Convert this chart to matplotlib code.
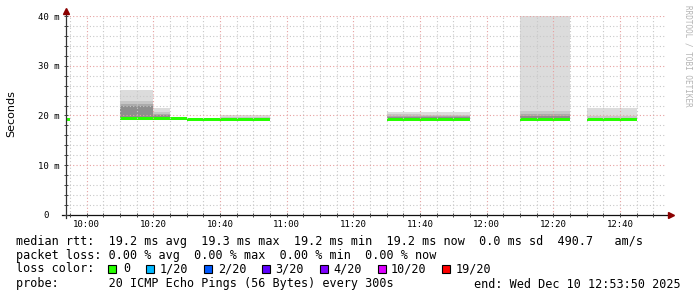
import matplotlib
matplotlib.use("Agg")
import matplotlib.pyplot as plt
from matplotlib.ticker import MultipleLocator, FixedLocator
from matplotlib.patches import Rectangle

# 5 minute steps, minutes relative to 10:00
step_start = [-10, 10, 15, 20, 25, 30, 35, 40, 45, 50,
              90, 95, 100, 105, 110, 130, 135, 140, 150, 155, 160]
median_ms = [19.2, 19.3, 19.3, 19.3, 19.3, 19.1, 19.1, 19.1, 19.1, 19.1,
             19.1, 19.1, 19.1, 19.1, 19.1, 19.2, 19.2, 19.2, 19.1, 19.1, 19.1]
# smoke levels, outer (light) to inner (dark)
smoke_top = [19.2, 25.1, 25.1, 21.6, 19.3, 19.1, 19.1, 20.1, 20.1, 20.1,
             20.8, 20.8, 20.8, 20.8, 20.8, 40.0, 40.0, 40.0, 21.6, 21.6, 21.6]
smoke_q2 = [19.2, 22.9, 22.9, 20.7, 19.3, 19.1, 19.1, 19.7, 19.7, 19.7,
            20.3, 20.3, 20.2, 20.2, 20.2, 20.9, 20.9, 20.9, 19.8, 19.8, 19.8]
smoke_q3 = [19.2, 22.4, 22.4, 20.4, 19.3, 19.1, 19.1, 19.1, 19.1, 19.1,
            20.0, 20.0, 19.8, 19.8, 19.8, 20.4, 20.4, 20.4, 19.1, 19.1, 19.1]
smoke_q4 = [19.2, 21.9, 21.9, 20.1, 19.3, 19.1, 19.1, 19.1, 19.1, 19.1,
            19.7, 19.7, 19.6, 19.6, 19.6, 19.9, 19.9, 19.9, 19.1, 19.1, 19.1]

x_tick_pos = [0, 20, 40, 60, 80, 100, 120, 140, 160]
x_tick_labels = ['10:00', '10:20', '10:40', '11:00', '11:20', '11:40', '12:00', '12:20', '12:40']
y_tick_pos = [0, 10, 20, 30, 40]
y_tick_labels = ['0  ', '10 m', '20 m', '30 m', '40 m']

loss_labels = ['0', '1/20', '2/20', '3/20', '4/20', '10/20', '19/20']
loss_colors = ['#26ff00', '#00b8ff', '#0059ff', '#5e00ff', '#7e00ff', '#dd00ff', '#ff0000']

W, H = 697, 297
mono = 'DejaVu Sans Mono'

fig = plt.figure(figsize=(W / 100, H / 100), dpi=100)
ax = fig.add_axes([66 / W, 1 - 215 / H, 600 / W, 199 / H])

# smoke
shades = ['#dcdcdc', '#c6c6c6', '#ababab', '#8e8e8e']
base = [m - 0.3 for m in median_ms]
for level, shade in zip([smoke_top, smoke_q2, smoke_q3, smoke_q4], shades):
    ax.bar(step_start, [lv - b for lv, b in zip(level, base)], bottom=base,
           width=5, align='edge', color=shade, linewidth=0, antialiased=False)

# median rtt, coloured by loss
ax.bar(step_start, 0.6, bottom=base, width=5, align='edge',
       color=loss_colors[0], linewidth=0, antialiased=False)

ax.set_xlim(-6.1667, 173.8333)
ax.set_ylim(0, 40)

ax.xaxis.set_major_locator(FixedLocator(x_tick_pos))
ax.xaxis.set_minor_locator(MultipleLocator(5))
ax.yaxis.set_major_locator(FixedLocator(y_tick_pos))
ax.yaxis.set_minor_locator(MultipleLocator(2))
ax.set_xticklabels(x_tick_labels, fontfamily=mono, fontsize=6.5)
ax.set_yticklabels(y_tick_labels, fontfamily=mono, fontsize=6.5)

ax.set_axisbelow(False)
ax.grid(which='minor', color='#c8c8c8', linestyle=(0, (1, 2)), linewidth=0.8)
ax.grid(which='major', color='#e6a0a0', linestyle=(0, (1, 2)), linewidth=0.8)

ax.tick_params(which='both', direction='inout', length=3, width=0.7, color='#404040')
ax.tick_params(axis='x', pad=2)
ax.tick_params(axis='y', pad=3)

for s in ['top', 'right']:
    ax.spines[s].set_visible(False)
for s in ['left', 'bottom']:
    ax.spines[s].set_visible(False)

# axes with arrows
ax.plot([0, 0], [-0.015, 1.02], transform=ax.transAxes, color='#303030', lw=0.9, clip_on=False)
ax.plot([-0.007, 1.006], [0, 0], transform=ax.transAxes, color='#101010', lw=0.9, clip_on=False)
ax.plot([0], [1.025], marker='^', ms=4, color='#8b0000', transform=ax.transAxes, clip_on=False)
ax.plot([1.009], [0], marker='>', ms=4, color='#8b0000', transform=ax.transAxes, clip_on=False)

ax.set_facecolor('white')
fig.patch.set_facecolor('white')

fig.text(11 / W, 1 - 114 / H, 'Seconds', rotation=90, ha='center', va='center',
         fontsize=8, fontfamily='DejaVu Sans')
fig.text(688 / W, 1 - 5 / H, 'RRDTOOL / TOBI OETIKER', rotation=270, ha='center', va='top',
         fontsize=5.5, fontfamily=mono, color='#b4b4b4')

# legend lines
def line(y, txt, x=16, ha='left'):
    fig.text(x / W, 1 - y / H, txt, ha=ha, va='center', fontsize=8.5, fontfamily=mono)

line(241, 'median rtt:  19.2 ms avg  19.3 ms max  19.2 ms min  19.2 ms now  0.0 ms sd  490.7   am/s')
line(255, 'packet loss: 0.00 % avg  0.00 % max  0.00 % min  0.00 % now')
line(269, 'loss color:')
line(284, 'probe:       20 ICMP Echo Pings (56 Bytes) every 300s')
line(284, 'end: Wed Dec 10 12:53:50 2025', x=681, ha='right')

box_x = [108, 146, 203.5, 262, 320, 378, 442]
label_x = [123.5, 160, 218, 275.5, 333, 391, 456]
for bx, lx, lab, col in zip(box_x, label_x, loss_labels, loss_colors):
    fig.patches.append(Rectangle((bx / W, 1 - 273 / H), 8 / W, 8 / H, transform=fig.transFigure,
                                 facecolor=col, edgecolor='black', linewidth=0.8))
    line(269, lab, x=lx)

fig.savefig('out.png', dpi=100)
